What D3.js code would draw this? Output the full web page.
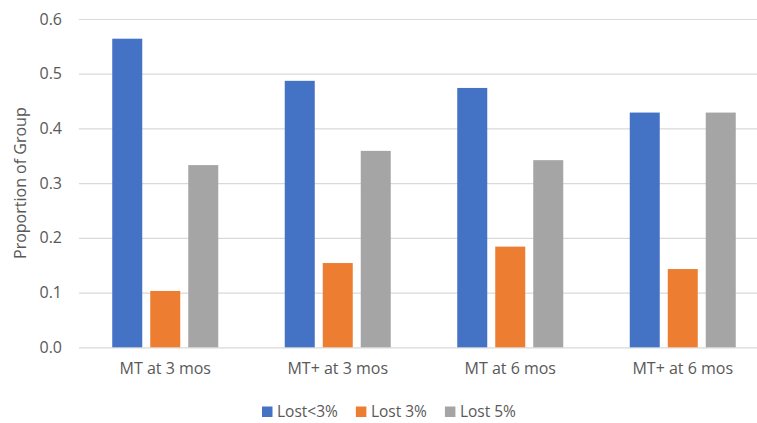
<!DOCTYPE html>
<html>
<head>
<meta charset="utf-8">
<script src="https://cdn.jsdelivr.net/npm/d3@7"></script>
<style>
  html, body { margin: 0; padding: 0; background: #fff; }
  svg { display: block; font-family: "Open Sans", "Liberation Sans", sans-serif; }
</style>
</head>
<body>
<svg id="chart" width="757" height="423"></svg>
<script>
// Weight-loss outcome proportions by group and follow-up time
const categories = ["MT at 3 mos", "MT+ at 3 mos", "MT at 6 mos", "MT+ at 6 mos"];
const seriesNames = ["Lost<3%", "Lost 3%", "Lost 5%"];
const lostUnder3 = [0.564, 0.487, 0.474, 0.429];
const lost3 = [0.103, 0.154, 0.184, 0.143];
const lost5 = [0.333, 0.359, 0.342, 0.429];
const yTicks = [0, 0.1, 0.2, 0.3, 0.4, 0.5, 0.6];
const colors = ["#4472C4", "#ED7D31", "#A5A5A5"];

const seriesValues = [lostUnder3, lost3, lost5];
const rows = categories.map((c, i) => ({
  category: c,
  values: seriesNames.map((s, j) => ({ series: s, value: seriesValues[j][i] }))
}));

const svg = d3.select("#chart");
const textColor = "#595959";

const plot = { left: 79, right: 769, top: 19, bottom: 347.3 };

const y = d3.scaleLinear().domain([0, 0.6]).range([plot.bottom, plot.top]);
const x0 = d3.scaleBand().domain(categories).range([plot.left, plot.right]).padding(0);
const groupWidth = 106;
const x1 = d3.scaleBand().domain(seriesNames).range([0, groupWidth])
  .paddingInner(8 / 38).paddingOuter(0);
const color = d3.scaleOrdinal().domain(seriesNames).range(colors);

// Gridlines
const yAxis = d3.axisLeft(y).tickValues(yTicks).tickFormat(d3.format(".1f"))
  .tickSize(-(plot.right - plot.left)).tickPadding(17);
const gy = svg.append("g").attr("transform", `translate(${plot.left},0)`).call(yAxis);
gy.select(".domain").remove();
gy.selectAll(".tick line").attr("stroke", "#D9D9D9").attr("stroke-width", 1.2);
gy.selectAll(".tick text").attr("fill", textColor).attr("font-size", 16)
  .attr("font-family", "'Open Sans', sans-serif");

// Bars
const groupOffset = (x0.bandwidth() - groupWidth) / 2;
const groups = svg.append("g").selectAll("g").data(rows).join("g")
  .attr("transform", d => `translate(${x0(d.category) + groupOffset},0)`);
groups.selectAll("rect").data(d => d.values).join("rect")
  .attr("x", d => x1(d.series))
  .attr("width", x1.bandwidth())
  .attr("y", d => y(d.value))
  .attr("height", d => y(0) - y(d.value))
  .attr("fill", d => color(d.series));

// Category axis labels
const xAxis = d3.axisBottom(x0).tickSize(0).tickPadding(15);
const gx = svg.append("g").attr("transform", `translate(0,${plot.bottom})`).call(xAxis);
gx.select(".domain").remove();
gx.selectAll(".tick text").attr("fill", textColor).attr("font-size", 16)
  .attr("font-family", "'Open Sans', sans-serif");

// Axis title
svg.append("text")
  .attr("transform", `translate(26,${(plot.top + plot.bottom) / 2}) rotate(-90)`)
  .attr("text-anchor", "middle")
  .attr("fill", textColor).attr("font-size", 16)
  .text("Proportion of Group");

// Legend
const legend = svg.append("g").attr("transform", "translate(262,412)");
let lx = 0;
seriesNames.forEach((s, i) => {
  const item = legend.append("g").attr("transform", `translate(${lx},0)`);
  item.append("rect").attr("x", 0).attr("y", -5.5).attr("width", 10.5).attr("height", 10.5)
    .attr("fill", color(s));
  const t = item.append("text").attr("x", 15).attr("dy", "0.35em")
    .attr("fill", textColor).attr("font-size", 15.5).text(s);
  lx += 15 + t.node().getComputedTextLength() + 18;
});
</script>
</body>
</html>
